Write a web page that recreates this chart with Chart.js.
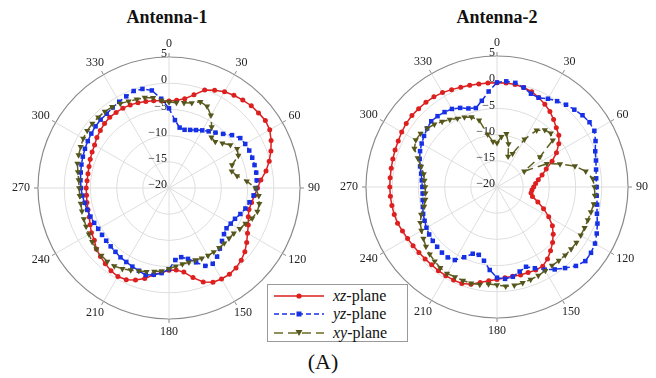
<!DOCTYPE html>
<html>
<head>
<meta charset="utf-8">
<script src="https://cdn.jsdelivr.net/npm/chart.js@4.4.0/dist/chart.umd.min.js"></script>
<style>
  body { margin:0; width:656px; height:378px; background:#fff; position:relative; overflow:hidden;
         font-family:"Liberation Serif","Times New Roman",serif; color:#111; }
  canvas { position:absolute; }
  #c1 { left:9px; top:28px; }
  #c2 { left:337px; top:27px; }
  .title { position:absolute; top:6px; width:200px; text-align:center; font-weight:bold; font-size:18px; line-height:22px; }
  #legend { position:absolute; left:267px; top:284px; width:139px; height:56px; border:1px solid #9a9a9a; background:#fff; z-index:5; }
  #legend svg { position:absolute; left:0; top:0; }
  #legend .row { position:absolute; left:65px; font-size:16px; line-height:18px; }
  #cap { position:absolute; left:268px; top:349px; width:110px; text-align:center; font-size:22px; line-height:26px; }
</style>
</head>
<body>
<div class="title" style="left:67px">Antenna-1</div>
<div class="title" style="left:397px">Antenna-2</div>
<canvas id="c1" width="320" height="320"></canvas>
<canvas id="c2" width="320" height="320"></canvas>
<div id="legend">
  <svg width="62" height="56">
    <line x1="6" y1="11" x2="56" y2="11" stroke="#dd1f1f" stroke-width="1.6"/>
    <circle cx="31" cy="11" r="2.6" fill="#dd1f1f"/>
    <line x1="6" y1="29" x2="56" y2="29" stroke="#1630e6" stroke-width="1.6" stroke-dasharray="5,3"/>
    <rect x="28.5" y="26.5" width="5" height="5" fill="#1630e6"/>
    <line x1="6" y1="48" x2="56" y2="48" stroke="#6a6b26" stroke-width="1.6" stroke-dasharray="9,5"/>
    <polygon points="27.5,45 34.5,45 31,51" fill="#55561c"/>
  </svg>
  <div class="row" style="top:2px"><i>xz</i>-plane</div>
  <div class="row" style="top:20px"><i>yz</i>-plane</div>
  <div class="row" style="top:39px"><i>xy</i>-plane</div>
</div>
<div id="cap">(A)</div>
<script>
// angles in degrees, 5 degree steps
const angles = [0,5,10,15,20,25,30,35,40,45,50,55,60,65,70,75,80,85,
  90,95,100,105,110,115,120,125,130,135,140,145,150,155,160,165,170,175,
  180,185,190,195,200,205,210,215,220,225,230,235,240,245,250,255,260,265,
  270,275,280,285,290,295,300,305,310,315,320,325,330,335,340,345,350,355];
const angleLabels = [0,30,60,90,120,150,180,210,240,270,300,330];
const radialTicks = [-20,-15,-10,-5,0,5];

// Antenna-1 (dB)
const a1xz = [-3.4,-3.2,-2.7,-1.6,-0.1,0.6,1.2,1.6,1.9,2.2,2.3,2.45,2.2,1.5,0.7,-0.2,-1.2,-2.4,
  -3.1,-3.6,-4.0,-4.2,-3.9,-3.3,-2.7,-1.9,-1.1,-0.5,-0.1,0.1,0.05,-0.15,-0.9,-2.3,-3.7,-4.3,
  -4.3,-3.8,-3.2,-2.1,-1.3,-0.7,-0.5,-0.7,-1.1,-1.5,-1.9,-2.6,-2.9,-3.4,-3.8,-4.0,-4.1,-4.2,
  -4.2,-4.3,-4.3,-4.2,-4.0,-3.8,-3.6,-3.2,-2.9,-2.6,-2.4,-2.4,-2.4,-2.5,-2.7,-2.9,-3.1,-3.3];
const a1yz = [-4.8,-7.0,-8.3,-8.5,-8.2,-7.8,-7.3,-6.8,-6.2,-5.4,-4.3,-3.4,-3.2,-3.1,-3.1,-3.1,-3.1,-3.2,
  -3.4,-3.8,-4.4,-4.9,-5.5,-6.1,-6.4,-6.6,-6.3,-5.7,-4.9,-4.0,-3.3,-3.6,-4.9,-6.0,-6.6,-6.2,
  -4.5,-3.7,-3.2,-2.8,-3.2,-3.45,-3.7,-3.85,-4.1,-4.25,-4.35,-4.4,-4.4,-4.25,-4.05,-3.85,-3.65,-3.4,
  -3.2,-3.05,-2.9,-2.7,-2.5,-2.3,-2.1,-1.9,-1.7,-1.55,-1.5,-1.25,-1.0,-0.7,-0.3,-0.43,-1.1,-2.9];
const a1xy = [-3.6,-3.65,-3.5,-3.2,-2.5,-2.8,-4.0,-5.8,-7.4,-7.5,-6.7,-5.7,-5.0,-5.4,-7.2,-7.6,-6.8,-5.1,
  -3.5,-2.8,-2.5,-2.55,-3.1,-3.9,-4.4,-4.9,-5.05,-5.1,-5.1,-5.1,-5.1,-5.2,-5.35,-5.3,-5.25,-5.0,
  -4.6,-4.1,-3.8,-3.45,-3.15,-2.7,-2.2,-1.8,-1.7,-1.75,-1.9,-2.1,-2.35,-2.55,-2.7,-2.8,-2.9,-2.9,
  -2.85,-2.7,-2.35,-1.9,-1.65,-1.4,-1.1,-0.95,-0.9,-0.9,-0.95,-1.1,-1.4,-1.75,-2.0,-2.15,-2.5,-3.2];

// Antenna-2 (dB)
const a2xz = [-0.1,-0.1,-0.15,-0.35,-0.65,-1.15,-1.75,-2.4,-3.2,-4.0,-4.6,-5.6,-6.9,-8.4,-10.0,-11.1,-12.0,-12.6,
  -13.0,-13.3,-13.4,-13.0,-11.7,-10.2,-8.6,-7.1,-6.0,-5.0,-4.1,-3.2,-2.55,-2.5,-2.65,-2.6,-2.7,-2.6,
  -2.35,-2.05,-1.5,-0.8,-0.4,-0.4,-0.45,-0.5,-0.6,-0.6,-0.55,-0.45,-0.3,-0.1,0.2,0.3,0.37,0.43,
  0.46,0.47,0.5,0.58,0.7,0.8,1.0,1.15,1.2,1.15,1.1,1.0,0.8,0.5,0.25,0.1,-0.05,-0.08];
const a2yz = [-0.05,0.24,0.18,-0.35,-1.05,-1.2,-0.55,0.0,0.5,0.87,1.3,1.55,1.45,0.75,-0.05,-0.45,-0.8,-1.0,
  -0.98,-0.9,-0.6,-0.25,0.4,1.0,1.6,1.9,2.0,1.3,0.2,-0.8,-1.8,-2.9,-3.8,-3.3,-2.6,-2.4,
  -2.7,-4.1,-5.7,-6.6,-6.45,-5.2,-3.9,-3.6,-3.65,-3.85,-4.0,-4.2,-4.45,-4.75,-5.0,-5.35,-5.6,-5.75,
  -5.75,-5.6,-5.3,-4.8,-4.3,-3.8,-3.4,-3.0,-2.6,-2.25,-2.35,-2.55,-2.8,-3.35,-4.05,-4.4,-3.3,-1.7];
const a2xy = [-11.6,-10.4,-9.7,-11.5,-13.8,-13.0,-9.5,-6.8,-5.8,-5.5,-6.1,-10.0,-14.0,-9.5,-7.2,-4.6,-2.8,-1.65,
  -1.4,-1.25,-1.25,-1.45,-1.55,-1.55,-1.55,-1.5,-1.55,-1.6,-1.65,-1.7,-1.55,-1.35,-1.2,-1.05,-0.95,-0.98,
  -1.3,-1.4,-1.1,-0.97,-1.0,-1.05,-0.95,-1.15,-1.5,-1.85,-2.3,-2.85,-3.35,-3.85,-4.6,-5.6,-6.1,-6.3,
  -6.3,-6.1,-5.8,-5.0,-3.9,-2.6,-2.1,-2.2,-2.6,-3.1,-3.7,-4.3,-4.9,-5.3,-5.8,-6.8,-9.8,-11.3];

const RED = '#dd1f1f', BLUE = '#1630e6', OLIVE = '#55561c', OLIVE_LINE = '#5f6020';

// tick labels, angle labels and outer ticks drawn under the curves
const polarDecor = {
  id: 'polarDecor',
  beforeDatasetsDraw(chart) {
    const s = chart.scales.r;
    const ctx = chart.ctx;
    ctx.save();
    ctx.font = '12px "Liberation Serif", serif';
    ctx.fillStyle = '#222';
    ctx.textAlign = 'right';
    ctx.textBaseline = 'middle';
    radialTicks.forEach(v => {
      const d = s.getDistanceFromCenterForValue(v);
      const txt = v < 0 ? '\u2212' + Math.abs(v) : String(v);
      ctx.fillText(txt, s.xCenter - 2, s.yCenter - d - 3);
    });
    const R = s.drawingArea;
    ctx.textAlign = 'center';
    ctx.strokeStyle = '#8a8a8a';
    ctx.lineWidth = 1;
    angleLabels.forEach(a => {
      const rad = a * Math.PI / 180;
      const sn = Math.sin(rad), cs = Math.cos(rad);
      const w = ctx.measureText(String(a)).width;
      const x = s.xCenter + (R + 8) * sn + (w / 2) * sn;
      const y = s.yCenter - (R + 8) * cs - 5 * cs;
      ctx.fillText(String(a), x, y);
      ctx.beginPath();
      ctx.moveTo(s.xCenter + R * sn, s.yCenter - R * cs);
      ctx.lineTo(s.xCenter + (R + 4) * sn, s.yCenter - (R + 4) * cs);
      ctx.stroke();
    });
    ctx.restore();
  }
};

function makeChart(id, xz, yz, xy) {
  new Chart(document.getElementById(id), {
    type: 'radar',
    data: {
      labels: angles,
      datasets: [
        { label: 'xz-plane', data: xz, borderColor: RED, backgroundColor: RED, borderWidth: 1.5,
          pointStyle: 'circle', pointRadius: 2.5, pointBorderWidth: 0, fill: false, order: 2 },
        { label: 'yz-plane', data: yz, borderColor: BLUE, backgroundColor: BLUE, borderWidth: 1.5,
          borderDash: [5, 3], pointStyle: 'rect', pointRadius: 3.2, pointBorderWidth: 0, fill: false, order: 1 },
        { label: 'xy-plane', data: xy, borderColor: OLIVE_LINE, backgroundColor: OLIVE, borderWidth: 1.5,
          borderDash: [9, 5], pointStyle: 'triangle', pointRotation: 180, pointRadius: 3.6, pointBorderWidth: 0,
          fill: false, order: 0 }
      ]
    },
    options: {
      responsive: false,
      animation: false,
      layout: { padding: 29 },
      elements: { line: { tension: 0 } },
      plugins: { legend: { display: false }, tooltip: { enabled: false } },
      events: [],
      scales: {
        r: {
          min: -20,
          max: 5,
          ticks: { display: false, stepSize: 5 },
          pointLabels: { display: false },
          grid: {
            circular: true,
            color: c => c.tick && c.tick.value === 5 ? '#8a8a8a' : '#dedede',
            lineWidth: c => c.tick && c.tick.value === 5 ? 1.2 : 1
          },
          angleLines: {
            color: c => (c.index % 6 === 0) ? '#dedede' : 'rgba(0,0,0,0)',
            lineWidth: c => (c.index % 6 === 0) ? 1 : 0
          }
        }
      }
    },
    plugins: [polarDecor]
  });
}

makeChart('c1', a1xz, a1yz, a1xy);
makeChart('c2', a2xz, a2yz, a2xy);
</script>
</body>
</html>
